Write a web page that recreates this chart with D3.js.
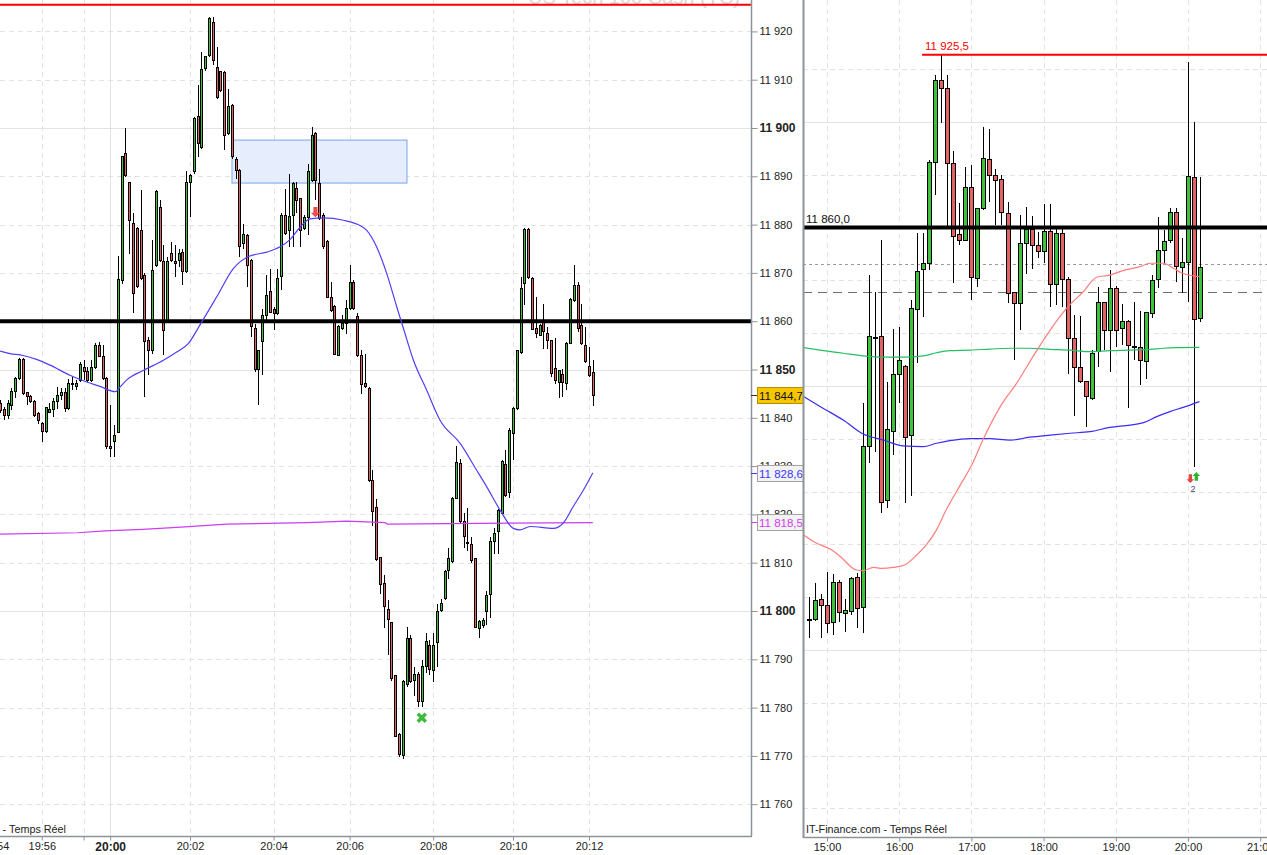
<!DOCTYPE html>
<html lang="fr">
<head>
<meta charset="UTF-8">
<title>US Tech 100 Cash (TC)</title>
<style>
  body { margin: 0; background: #fff; }
  svg text { font-family: "Liberation Sans", Arial, sans-serif; }
  .tick text { fill: #222; }
</style>
</head>
<body>
<svg id="chart" width="1267" height="855"></svg>
<script src="https://cdn.jsdelivr.net/npm/d3@7/dist/d3.min.js"></script>
<script>
// ---- left panel : tick candles 19:54 - 20:12, [open, high, low, close]
var leftCandles = [
  [11843.0,11843.6,11840.9,11841.6],[11841.7,11842.3,11839.5,11840.5],[11840.5,11843.6,11839.8,11843.0],
  [11842.6,11846.1,11841.6,11845.4],[11845.4,11848.5,11844.0,11848.1],[11848.1,11852.3,11847.8,11852.1],
  [11852.1,11852.3,11844.7,11845.0],[11845.2,11845.4,11842.6,11844.5],[11844.5,11844.7,11843.0,11843.3],
  [11843.3,11843.6,11840.2,11840.5],[11840.9,11841.2,11838.8,11839.5],[11838.8,11839.1,11835.0,11837.1],
  [11837.1,11842.3,11836.8,11842.1],[11841.2,11843.0,11840.9,11841.7],[11841.7,11844.0,11840.2,11843.3],
  [11843.3,11846.4,11841.9,11844.7],[11844.7,11846.1,11843.6,11845.2],[11845.2,11846.1,11841.2,11841.9],
  [11841.9,11848.1,11841.6,11847.1],[11847.1,11848.5,11845.7,11846.8],[11846.4,11847.8,11845.7,11847.2],
  [11847.8,11851.6,11847.4,11851.0],[11850.5,11851.9,11847.8,11849.5],[11849.5,11850.5,11847.4,11847.8],
  [11847.8,11851.9,11847.4,11850.5],[11850.5,11855.4,11850.2,11855.0],[11855.0,11855.7,11852.6,11852.7],
  [11852.7,11855.0,11847.8,11848.1],[11848.1,11848.5,11833.6,11834.0],[11834.1,11842.6,11831.9,11833.6],
  [11835.0,11838.5,11831.9,11836.4],[11836.9,11873.6,11836.8,11868.6],[11868.5,11894.3,11867.8,11894.0],
  [11894.7,11899.9,11889.9,11890.2],[11888.8,11888.8,11874.0,11880.9],[11880.3,11882.3,11861.6,11865.7],
  [11879.2,11879.5,11866.8,11867.1],[11878.8,11887.1,11868.5,11868.8],[11869.5,11869.9,11844.3,11855.7],
  [11856.1,11856.8,11848.8,11854.0],[11854.0,11876.8,11853.3,11870.5],[11871.6,11887.1,11871.2,11886.8],
  [11883.6,11885.0,11872.3,11872.6],[11872.3,11875.7,11853.0,11858.1],[11860.2,11873.3,11859.9,11872.3],
  [11874.0,11876.4,11872.3,11872.6],[11872.3,11875.7,11869.2,11872.0],[11872.6,11875.0,11871.2,11874.0],
  [11874.3,11875.0,11867.4,11870.2],[11870.2,11891.2,11869.9,11888.8],[11888.8,11890.5,11881.6,11890.2],
  [11890.9,11902.3,11890.5,11901.9],[11902.3,11908.8,11894.0,11896.7],[11896.0,11915.7,11895.7,11912.1],
  [11912.3,11915.0,11911.9,11914.7],[11915.0,11923.0,11914.7,11922.6],[11921.9,11923.0,11913.0,11913.9],
  [11912.5,11916.7,11906.1,11906.4],[11911.6,11911.6,11907.4,11907.8],[11911.4,11911.9,11895.4,11898.5],
  [11898.8,11908.1,11898.5,11904.5],[11904.7,11904.9,11893.6,11894.0],[11893.4,11894.0,11889.5,11891.2],
  [11891.2,11891.6,11873.3,11875.4],[11876.1,11880.2,11875.0,11877.9],[11877.8,11878.1,11867.1,11871.6],
  [11872.6,11872.9,11856.8,11858.8],[11858.5,11859.5,11849.5,11849.9],[11849.9,11854.0,11842.6,11854.0],
  [11855.7,11862.6,11848.8,11861.2],[11861.2,11869.5,11860.2,11865.4],[11866.1,11870.9,11861.6,11861.9],
  [11862.4,11862.9,11858.1,11861.6],[11861.6,11870.9,11861.2,11868.8],[11869.2,11882.3,11866.4,11881.9],
  [11881.9,11887.4,11877.8,11878.1],[11878.8,11890.5,11875.4,11881.7],[11881.9,11888.8,11875.4,11888.5],
  [11887.4,11888.8,11882.3,11885.0],[11885.4,11885.6,11875.4,11878.8],[11879.2,11881.9,11878.8,11881.5],
  [11881.5,11892.6,11877.8,11890.9],[11889.1,11900.2,11888.8,11898.5],[11898.8,11899.2,11885.0,11889.1],
  [11888.6,11891.6,11880.9,11881.2],[11881.9,11882.3,11875.0,11875.4],[11876.4,11876.8,11864.7,11865.0],
  [11865.0,11868.1,11861.9,11862.3],[11863.1,11863.3,11853.0,11853.2],[11853.0,11859.2,11852.8,11858.8],
  [11858.5,11861.2,11858.1,11859.5],[11859.5,11864.3,11857.4,11862.6],[11862.6,11871.6,11862.3,11868.1],
  [11868.1,11868.5,11862.3,11862.6],[11860.9,11861.6,11852.6,11853.0],[11853.0,11854.0,11845.0,11846.8],
  [11847.1,11853.3,11846.1,11846.5],[11846.1,11846.4,11826.7,11827.1],[11827.1,11829.2,11817.7,11820.5],
  [11821.4,11823.1,11810.4,11810.7],[11811.1,11811.2,11803.6,11805.5],[11805.7,11807.4,11796.4,11800.9],
  [11800.3,11802.3,11790.9,11798.3],[11797.6,11797.8,11785.6,11786.1],[11786.6,11786.8,11773.9,11774.0],
  [11774.5,11774.7,11769.7,11770.2],[11770.0,11785.8,11769.3,11785.4],[11784.7,11796.7,11784.3,11794.3],
  [11794.3,11795.0,11785.0,11785.4],[11785.7,11788.5,11782.3,11786.8],[11786.8,11787.4,11780.2,11781.2],
  [11781.2,11789.8,11780.2,11788.5],[11788.5,11795.4,11787.1,11793.6],[11792.9,11793.9,11786.8,11787.8],
  [11787.6,11795.4,11785.2,11792.9],[11793.4,11801.4,11788.5,11799.9],[11800.1,11802.4,11799.8,11801.6],
  [11802.5,11808.5,11802.3,11808.1],[11808.4,11813.1,11806.6,11810.9],[11810.2,11823.6,11809.9,11823.3],
  [11823.3,11834.2,11823.1,11830.8],[11830.5,11831.4,11818.3,11818.5],[11818.5,11820.2,11813.0,11815.4],
  [11814.2,11821.4,11812.4,11814.0],[11813.7,11815.4,11809.9,11810.5],[11810.9,11811.0,11796.4,11796.6],
  [11796.4,11798.1,11794.5,11797.8],[11797.1,11798.5,11796.4,11798.1],[11799.8,11804.2,11797.1,11803.3],
  [11803.4,11815.4,11798.5,11814.4],[11814.4,11817.2,11811.7,11816.1],[11816.4,11821.2,11811.7,11820.9],
  [11820.2,11831.2,11819.9,11830.9],[11830.4,11833.3,11823.6,11824.0],[11824.5,11837.8,11823.3,11837.4],
  [11836.8,11842.3,11831.2,11841.9],[11841.9,11854.0,11841.6,11854.0],[11853.6,11869.2,11853.3,11866.8],
  [11867.8,11879.2,11863.3,11879.0],[11879.0,11879.2,11868.8,11869.0],[11868.8,11869.2,11858.1,11858.3],
  [11858.5,11865.0,11856.6,11857.4],[11857.1,11859.5,11856.9,11859.2],[11860.2,11863.6,11854.3,11857.8],
  [11857.4,11858.8,11854.3,11856.1],[11856.1,11856.2,11848.5,11849.2],[11850.2,11856.6,11847.1,11847.8],
  [11847.4,11850.0,11844.0,11849.7],[11849.0,11850.2,11844.3,11847.4],[11847.1,11855.7,11845.7,11855.4],
  [11855.4,11864.7,11855.2,11864.5],[11864.3,11871.6,11863.9,11867.4],[11867.4,11868.1,11857.8,11858.5],
  [11859.2,11863.6,11855.0,11855.4],[11855.0,11858.9,11851.4,11851.6],[11850.7,11854.7,11848.5,11848.8],
  [11849.3,11851.9,11842.4,11844.7]
];
// moving average (blue): [candle index, price]
var leftMA = [
  [0,11853.8],[2.6,11853.3],[6.1,11852.9],[9.6,11852.1],[13.2,11850.9],[18.4,11848.8],[22.8,11847.4],
  [26.3,11846.5],[30.3,11845.4],[31.6,11846.4],[33.3,11847.8],[37.7,11849.8],[43,11851.9],[46.5,11853.6],
  [49.6,11855.4],[52.6,11859.2],[57,11865],[61.4,11870.9],[65.4,11873.4],[70.2,11874.3],[73.7,11875.4],
  [76.3,11876.9],[78.9,11879.4],[81.6,11881.2],[85.1,11881.4],[90.4,11880.9],[94.7,11879.8],[96.5,11878.8],
  [99.1,11875.4],[101.8,11869.8],[104.4,11863],[106.6,11857.4],[108.8,11851.9],[112.3,11845.7],
  [115.8,11839.5],[121.1,11834.7],[125.4,11829.2],[128.1,11825.7],[131.6,11820.9],[135.1,11817.1],
  [136.8,11816.8],[139.5,11817.5],[145.6,11817.1],[148.2,11818.2],[150.9,11821.7],[153.5,11825],[156,11828.6]
];
// vwap (magenta): [candle index, price]
var leftVwap = [
  [0,11815.9],[20.5,11816.2],[27.6,11816.6],[37.6,11816.9],[48.7,11817.4],[59.7,11818.0],
  [80.8,11818.3],[91.3,11818.6],[101.3,11818.3],[102,11818.0],[156,11818.3]
];
var leftTickIdx = [-1.3, 11, 22, 29, 50, 72, 92, 114, 135, 155];
var leftTickLbl = ["19:54", "19:56", "", "20:00", "20:02", "20:04", "20:06", "20:08", "20:10", "20:12"];
var leftPriceTicks = d3.range(11760, 11921, 10);
var boldPrices = [11800, 11850, 11900];
var zone = { i0: 61.05, i1: 107.1, low: 11888.6, high: 11897.5 };
var sellSignal = { i: 83, p: 11881.5 };
var exitSignal = { i: 111, p: 11777.9 };
var lastPrice = 11844.7, maLast = 11828.6, vwapLast = 11818.5;
var resistance = 11925.5, pivot = 11860.0;

// ---- right panel : 5 minute candles, [slot (5 min from 15:00), open, high, low, close]
var rightCandles = [
  [-3,11711.7,11720.2,11704.4,11711.7],[-2,11711.6,11725.5,11711.1,11718.7],[-1,11719.2,11721.2,11704.4,11717.0],
  [0,11717.0,11729.7,11706.6,11710.1],[1,11710.4,11728.8,11705.7,11725.5],[2,11725.5,11726.5,11710.7,11714.1],
  [3,11713.9,11719.2,11706.9,11714.8],[4,11714.5,11727.5,11713.3,11727.1],[5,11727.5,11729.3,11708.2,11715.8],
  [6,11716.2,11793.4,11706.6,11777.0],[7,11777.0,11842.0,11770.7,11818.9],[8,11818.4,11835.7,11775.0,11818.4],
  [9,11818.9,11855.3,11752.0,11755.9],[10,11756.6,11801.6,11753.9,11783.6],[11,11782.7,11821.5,11773.9,11804.5],
  [12,11804.5,11822.5,11793.4,11809.8],[13,11807.3,11808.0,11755.6,11780.6],[14,11781.1,11832.6,11758.5,11829.4],
  [15,11829.0,11857.8,11808.6,11843.3],[16,11844.2,11857.8,11826.0,11846.5],[17,11846.5,11885.6,11843.9,11884.6],
  [18,11884.6,11917.8,11872.3,11915.9],[19,11915.9,11925.4,11899.7,11912.8],[20,11912.8,11917.8,11860.4,11884.3],
  [21,11884.3,11889.1,11838.9,11856.6],[22,11857.2,11869.2,11853.4,11855.1],[23,11855.3,11883.1,11855.1,11875.3],
  [24,11875.3,11883.7,11832.6,11841.2],[25,11840.8,11867.3,11837.6,11867.3],[26,11867.3,11898.0,11866.7,11886.2],
  [27,11885.9,11897.2,11869.8,11879.9],[28,11879.9,11882.1,11861.0,11878.0],[29,11878.3,11879.9,11861.0,11865.7],
  [30,11865.4,11869.8,11831.3,11835.1],[31,11835.4,11835.7,11809.8,11831.1],[32,11831.3,11864.8,11821.2,11854.0],
  [33,11853.8,11867.7,11842.4,11859.1],[34,11859.1,11864.4,11844.2,11853.4],[35,11853.4,11858.5,11848.4,11850.9],
  [36,11850.9,11868.9,11846.5,11858.5],[37,11858.5,11868.9,11830.1,11838.6],[38,11838.6,11859.3,11830.7,11857.6],
  [39,11857.6,11859.3,11830.1,11840.4],[40,11840.4,11841.4,11804.5,11818.1],[41,11818.1,11826.9,11788.6,11807.1],
  [42,11807.1,11826.5,11801.0,11801.6],[43,11801.6,11801.6,11784.3,11796.0],[44,11795.3,11813.6,11794.7,11812.4],
  [45,11813.0,11837.6,11807.1,11831.6],[46,11831.6,11831.9,11813.6,11821.2],[47,11821.0,11843.9,11805.4,11837.0],
  [48,11837.0,11837.9,11814.9,11821.2],[49,11821.8,11831.1,11815.5,11824.4],[50,11824.4,11825.0,11791.5,11815.5],
  [51,11814.9,11831.9,11809.8,11814.9],[52,11814.6,11828.5,11800.4,11809.8],[53,11809.2,11828.2,11802.5,11827.8],
  [54,11827.5,11842.0,11825.6,11839.9],[55,11840.2,11863.9,11837.0,11851.3],[56,11851.3,11859.1,11846.5,11854.7],
  [57,11855.1,11867.3,11854.0,11865.7],[58,11865.7,11867.3,11839.5,11845.2],[59,11845.0,11855.9,11835.1,11846.7],
  [60,11846.7,11922.9,11831.9,11879.3],[61,11879.0,11900.1,11769.4,11825.3],[62,11825.6,11879.3,11824.4,11844.7]
];
var rightMaSlow = [ // green
  [-3.9,11814.6],[-0.6,11813.4],[2.7,11812.4],[6,11811.4],[9.4,11810.9],[12.7,11810.9],[16,11811.4],
  [18.2,11812.6],[20.4,11813.4],[23.8,11813.6],[27.1,11814.0],[30.4,11814.3],[33.7,11814.3],[37.1,11813.9],
  [40.4,11813.6],[43.7,11813.0],[47,11813.4],[50.4,11813.6],[53.7,11813.9],[55.9,11814.3],[58.1,11814.5],[61.9,11814.6]
];
var rightMaMid = [ // blue
  [-3.9,11796.0],[-0.6,11791.5],[2.7,11787.1],[6,11781.8],[9.4,11779.5],[12.7,11777.3],[16,11777.0],
  [18.2,11778.3],[20.4,11779.3],[23.8,11780.1],[27.1,11780.1],[30.4,11779.5],[33.7,11780.6],[37.1,11781.4],
  [40.4,11782.1],[43.7,11782.7],[47,11784.3],[50.4,11785.2],[52.6,11786.1],[54.8,11788.4],[57,11790.3],
  [59.2,11791.9],[61.9,11794.1]
];
var rightMaFast = [ // salmon
  [-3.9,11743.6],[-1.7,11740.4],[0.8,11737.9],[2.2,11735.4],[4.9,11730.3],[6,11730.1],[7.7,11731.3],
  [9.1,11730.9],[11,11731.3],[12.9,11732.2],[14.9,11736.0],[16.5,11739.8],[18.2,11745.5],[19.8,11753.0],
  [22,11761.9],[24.2,11770.7],[25.9,11779.5],[28.8,11792.2],[31.5,11801.0],[34.9,11813.6],[37.1,11821.2],
  [39.8,11829.4],[42.6,11835.7],[44.8,11841.2],[47,11842.0],[49.2,11843.7],[52,11845.2],[53.7,11846.5],
  [55.9,11846.5],[57.6,11844.6],[58.9,11842.9],[61.9,11841.4]
];
var rightHours = ["15:00", "16:00", "17:00", "18:00", "19:00", "20:00", "21:00"];
var rightPriceGrid = d3.range(11640, 11921, 20);
var rightMajor = [11700, 11800, 11900];
var dotLevel = 11846.2, dashLevel = 11835.6;
var resistanceStartSlot = 15.8;
var rightSignal = { slot: 61, p: 11765.5, count: "2" };

// ---------------------------------------------------------------
var svg = d3.select("#chart");
var loc = d3.formatLocale({ decimal: ",", thousands: " ", grouping: [3], currency: ["", ""] });
var fmt0 = loc.format(",.0f"), fmt1 = loc.format(",.1f");
var UP = "#3ec23e", DOWN = "#e46262", GRID = "#e3e3e3", AXIS = "#8e9398";

var xL = d3.scaleLinear().domain([0, 156]).range([0, 592.8]);
var yL = d3.scaleLinear().domain([11800, 11900]).range([611, 128]);
var xR = d3.scaleLinear().domain([0, 72]).range([827, 1260.2]);
var yR = d3.scaleLinear().domain([11700, 11900]).range([650, 122]);

var defs = svg.append("defs");
defs.append("clipPath").attr("id", "clipL").append("rect").attr("x", 0).attr("y", 0).attr("width", 751).attr("height", 836);
defs.append("clipPath").attr("id", "clipR").append("rect").attr("x", 804).attr("y", 0).attr("width", 463).attr("height", 836);

function drawCandles(g, data, xf, y, bw) {
  var c = g.selectAll("g.cdl").data(data).join("g").attr("class", "cdl")
    .attr("shape-rendering", "crispEdges");
  c.append("line")
    .attr("x1", function(d) { return Math.round(xf(d)) + 0.5; })
    .attr("x2", function(d) { return Math.round(xf(d)) + 0.5; })
    .attr("y1", function(d) { return y(d.h); })
    .attr("y2", function(d) { return y(d.l); })
    .attr("stroke", "#000");
  c.append("rect")
    .attr("x", function(d) { return Math.round(xf(d)) + 0.5 - bw / 2; })
    .attr("width", bw)
    .attr("y", function(d) { return y(Math.max(d.o, d.c)); })
    .attr("height", function(d) { return Math.max(1, Math.abs(y(d.o) - y(d.c))); })
    .attr("fill", function(d) { return d.c > d.o ? UP : (d.c < d.o ? DOWN : "#000"); })
    .attr("stroke", "#000").attr("stroke-width", 1);
}

function arrowDown(sz) { // tip at origin
  return "M0,0L" + (-sz) + "," + (-sz) + "L" + (-sz * 0.45) + "," + (-sz) + "L" + (-sz * 0.45) + "," + (-sz * 2.3) +
    "L" + (sz * 0.45) + "," + (-sz * 2.3) + "L" + (sz * 0.45) + "," + (-sz) + "L" + sz + "," + (-sz) + "Z";
}

// ================= LEFT PANEL =================
var gL = svg.append("g").attr("clip-path", "url(#clipL)");

// watermark
gL.append("text").attr("x", 740).attr("y", 4).attr("text-anchor", "end")
  .style("font-size", "20px").style("fill", "#d8d8d8").text("US Tech 100 Cash (TC)");

// grid
gL.selectAll("line.hg").data(leftPriceTicks).join("line").attr("class", "hg")
  .attr("x1", 0).attr("x2", 751)
  .attr("y1", function(d) { return Math.round(yL(d)) + 0.5; })
  .attr("y2", function(d) { return Math.round(yL(d)) + 0.5; })
  .attr("stroke", GRID)
  .attr("stroke-dasharray", function(d) { return boldPrices.indexOf(d) >= 0 ? null : "5,4"; });
gL.selectAll("line.vg").data(leftTickIdx).join("line").attr("class", "vg")
  .attr("x1", function(d) { return Math.round(xL(d)) + 0.5; })
  .attr("x2", function(d) { return Math.round(xL(d)) + 0.5; })
  .attr("y1", 0).attr("y2", 836)
  .attr("stroke", GRID)
  .attr("stroke-dasharray", function(d, i) { return leftTickLbl[i] === "20:00" ? null : "5,4"; });

// selling zone
gL.append("rect")
  .attr("x", xL(zone.i0)).attr("width", xL(zone.i1) - xL(zone.i0))
  .attr("y", yL(zone.high)).attr("height", yL(zone.low) - yL(zone.high))
  .attr("fill", "#e6edfc").attr("stroke", "#78a4ef").attr("stroke-width", 1);

var leftData = leftCandles.map(function(a, i) { return { i: i, o: a[0], h: a[1], l: a[2], c: a[3] }; });
drawCandles(gL.append("g"), leftData, function(d) { return xL(d.i); }, yL, 2);

// horizontal levels
gL.append("line").attr("x1", 0).attr("x2", 751).attr("y1", yL(resistance)).attr("y2", yL(resistance))
  .attr("stroke", "#f00").attr("stroke-width", 2);
gL.append("line").attr("x1", 0).attr("x2", 751).attr("y1", yL(pivot)).attr("y2", yL(pivot))
  .attr("stroke", "#000").attr("stroke-width", 4);

var lineL = d3.line().x(function(d) { return xL(d[0]); }).y(function(d) { return yL(d[1]); });
gL.append("path").attr("d", lineL(leftVwap)).attr("fill", "none").attr("stroke", "#cc3cf2").attr("stroke-width", 1.2);
gL.append("path").attr("d", lineL.curve(d3.curveMonotoneX)(leftMA)).attr("fill", "none")
  .attr("stroke", "#5040f5").attr("stroke-width", 1.2);

// signals
gL.append("path").attr("d", arrowDown(4.5))
  .attr("transform", "translate(" + xL(sellSignal.i) + "," + yL(sellSignal.p) + ")")
  .attr("fill", "#ee4b4b");
gL.append("path").attr("d", "M-4,-4L4,4M4,-4L-4,4")
  .attr("transform", "translate(" + xL(exitSignal.i) + "," + yL(exitSignal.p) + ")")
  .attr("stroke", "#3dbb3d").attr("stroke-width", 3.5).attr("fill", "none");

gL.append("text").attr("x", 66).attr("y", 833).attr("text-anchor", "end")
  .style("font-size", "10.8px").style("fill", "#222").text("IT-Finance.com - Temps Réel");

// left price axis
svg.append("line").attr("x1", 751.5).attr("x2", 751.5).attr("y1", 0).attr("y2", 836).attr("stroke", AXIS).attr("stroke-width", 1.5);
var axL = svg.append("g").attr("transform", "translate(751.5,0)")
  .call(d3.axisRight(yL).tickValues(leftPriceTicks).tickSize(6).tickPadding(2).tickFormat(fmt0));
axL.select(".domain").remove();
axL.selectAll(".tick line").attr("stroke", AXIS);
axL.selectAll(".tick text")
  .style("font-size", function(d) { return boldPrices.indexOf(d) >= 0 ? "12px" : "11px"; })
  .style("font-weight", function(d) { return boldPrices.indexOf(d) >= 0 ? "bold" : "normal"; });

// value badges
var badges = [
  { p: maLast, fill: "#f3f3f3", stroke: "#a3a3a3", color: "#3a3aff", tick: "#3a3aff" },
  { p: vwapLast, fill: "#f3f3f3", stroke: "#a3a3a3", color: "#d23cf0", tick: "#d23cf0" },
  { p: lastPrice, fill: "#f6c700", stroke: "#b39200", color: "#111", tick: "#333" }
];
var bg = svg.selectAll("g.badge").data(badges).join("g").attr("class", "badge")
  .attr("transform", function(d) { return "translate(0," + Math.round(yL(d.p)) + ")"; });
bg.append("line").attr("x1", 751).attr("x2", 757).attr("y1", 0.5).attr("y2", 0.5).attr("stroke", function(d) { return d.tick; });
bg.append("rect").attr("x", 757.5).attr("y", -7.5).attr("width", 52).attr("height", 16)
  .attr("fill", function(d) { return d.fill; }).attr("stroke", function(d) { return d.stroke; });
bg.append("text").attr("x", 759).attr("y", 4.5).style("font-size", "11.5px")
  .style("fill", function(d) { return d.color; }).text(function(d) { return fmt1(d.p); });

// left time axis
svg.append("line").attr("x1", 0).attr("x2", 752).attr("y1", 836.5).attr("y2", 836.5).attr("stroke", AXIS).attr("stroke-width", 1.5);
var axB = svg.append("g").attr("transform", "translate(0,836.5)")
  .call(d3.axisBottom(xL).tickValues(leftTickIdx).tickSize(4).tickPadding(2)
    .tickFormat(function(d, i) { return leftTickLbl[i]; }));
axB.select(".domain").remove();
axB.selectAll(".tick line").attr("stroke", AXIS);
axB.selectAll(".tick text")
  .style("font-size", function(d, i) { return leftTickLbl[i] === "20:00" ? "12px" : "11px"; })
  .style("font-weight", function(d, i) { return leftTickLbl[i] === "20:00" ? "bold" : "normal"; });

// ================= RIGHT PANEL =================
svg.append("rect").attr("x", 803).attr("y", 0).attr("width", 464).attr("height", 855).attr("fill", "#fff");
var gR = svg.append("g").attr("clip-path", "url(#clipR)");

gR.selectAll("line.hg").data(rightPriceGrid).join("line").attr("class", "hg")
  .attr("x1", 803).attr("x2", 1267)
  .attr("y1", function(d) { return Math.round(yR(d)) + 0.5; })
  .attr("y2", function(d) { return Math.round(yR(d)) + 0.5; })
  .attr("stroke", GRID)
  .attr("stroke-dasharray", function(d) { return rightMajor.indexOf(d) >= 0 ? null : "5,4"; });
gR.selectAll("line.vg").data(rightHours).join("line").attr("class", "vg")
  .attr("x1", function(d, i) { return Math.round(xR(i * 12)) + 0.5; })
  .attr("x2", function(d, i) { return Math.round(xR(i * 12)) + 0.5; })
  .attr("y1", 0).attr("y2", 837).attr("stroke", GRID).attr("stroke-dasharray", "5,4");

gR.append("line").attr("x1", 803).attr("x2", 1267).attr("y1", Math.round(yR(dotLevel)) + 0.5).attr("y2", Math.round(yR(dotLevel)) + 0.5)
  .attr("stroke", "#9a9a9a").attr("stroke-dasharray", "3,3");
gR.append("line").attr("x1", 803).attr("x2", 1267).attr("y1", Math.round(yR(dashLevel)) + 0.5).attr("y2", Math.round(yR(dashLevel)) + 0.5)
  .attr("stroke", "#6e6e6e").attr("stroke-dasharray", "9,6");

var rightData = rightCandles.map(function(a) { return { s: a[0], o: a[1], h: a[2], l: a[3], c: a[4] }; });
drawCandles(gR.append("g"), rightData, function(d) { return xR(d.s); }, yR, 4);

gR.append("line").attr("x1", xR(resistanceStartSlot)).attr("x2", 1267).attr("y1", yR(resistance)).attr("y2", yR(resistance))
  .attr("stroke", "#f00").attr("stroke-width", 2);
gR.append("text").attr("x", xR(resistanceStartSlot) + 3).attr("y", yR(resistance) - 5)
  .style("font-size", "11.5px").style("fill", "#f00").text(fmt1(resistance));
gR.append("line").attr("x1", 803).attr("x2", 1267).attr("y1", yR(pivot)).attr("y2", yR(pivot))
  .attr("stroke", "#000").attr("stroke-width", 4);
gR.append("text").attr("x", 806).attr("y", yR(pivot) - 5)
  .style("font-size", "11.5px").style("fill", "#111").text(fmt1(pivot));

var lineR = d3.line().curve(d3.curveMonotoneX).x(function(d) { return xR(d[0]); }).y(function(d) { return yR(d[1]); });
gR.append("path").attr("d", lineR(rightMaSlow)).attr("fill", "none").attr("stroke", "#22c063").attr("stroke-width", 1.2);
gR.append("path").attr("d", lineR(rightMaMid)).attr("fill", "none").attr("stroke", "#3a2cf5").attr("stroke-width", 1.2);
gR.append("path").attr("d", lineR(rightMaFast)).attr("fill", "none").attr("stroke", "#ff7d7d").attr("stroke-width", 1.2);

var sx = xR(rightSignal.slot), sy = yR(rightSignal.p);
gR.append("path").attr("d", arrowDown(3.8)).attr("transform", "translate(" + (sx - 3.7) + "," + (sy + 6) + ")").attr("fill", "#e84545");
gR.append("path").attr("d", arrowDown(3.8)).attr("transform", "translate(" + (sx + 2.3) + "," + (sy - 5) + ") rotate(180)").attr("fill", "#2fb52f");
gR.append("text").attr("x", sx - 1).attr("y", sy + 15).attr("text-anchor", "middle")
  .style("font-size", "9px").style("fill", "#4a4a6a").text(rightSignal.count);

gR.append("text").attr("x", 806).attr("y", 833).style("font-size", "10.8px").style("fill", "#222").text("IT-Finance.com - Temps Réel");

svg.append("line").attr("x1", 803.5).attr("x2", 803.5).attr("y1", 0).attr("y2", 838).attr("stroke", AXIS).attr("stroke-width", 2);
svg.append("line").attr("x1", 803).attr("x2", 1267).attr("y1", 837.5).attr("y2", 837.5).attr("stroke", AXIS).attr("stroke-width", 1.5);
var axR = svg.append("g").attr("transform", "translate(0,837.5)")
  .call(d3.axisBottom(xR).tickValues(rightHours.map(function(d, i) { return i * 12; })).tickSize(4).tickPadding(2)
    .tickFormat(function(d, i) { return rightHours[i]; }));
axR.select(".domain").remove();
axR.selectAll(".tick line").attr("stroke", AXIS);
axR.selectAll(".tick text").style("font-size", "11px");
</script>
</body>
</html>
